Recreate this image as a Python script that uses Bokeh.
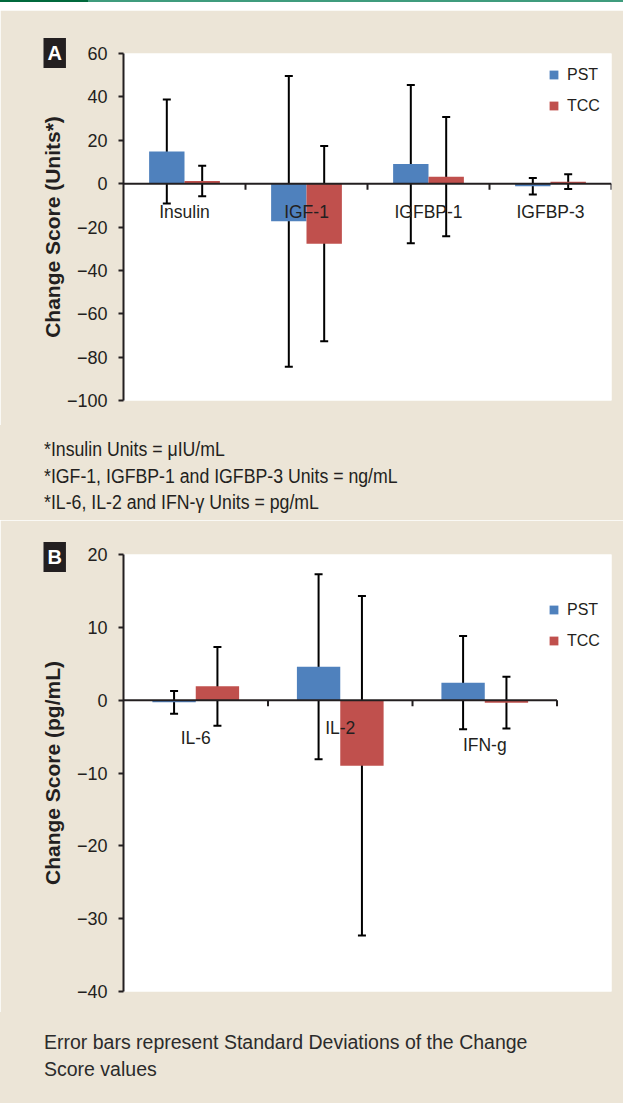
from math import pi
from bokeh.plotting import figure
from bokeh.models import (Range1d, FixedTicker, ColumnDataSource, Whisker, TeeHead,
                          Title, Legend, LegendItem, Div)
from bokeh.layouts import column
from bokeh.embed import file_html
from bokeh.resources import INLINE
from bokeh.core.properties import value

# ---------------- data ----------------
cats_a = ["Insulin", "IGF-1", "IGFBP-1", "IGFBP-3"]
pst_a = [14.8, -17.4, 9.0, -1.2]
pst_a_sd = [24.0, 67.0, 36.5, 3.8]
tcc_a = [1.2, -27.7, 3.2, 0.9]
tcc_a_sd = [7.0, 45.0, 27.5, 3.4]
ticks_a = [-100, -80, -60, -40, -20, 0, 20, 40, 60]
tick_labels_a = ["\u2212100", "\u221280", "\u221260", "\u221240", "\u221220", "0", "20", "40", "60"]

cats_b = ["IL-6", "IL-2", "IFN-g"]
pst_b = [-0.3, 4.6, 2.4]
pst_b_sd = [1.55, 12.7, 6.4]
tcc_b = [1.9, -9.0, -0.35]
tcc_b_sd = [5.4, 23.3, 3.55]
ticks_b = [-40, -30, -20, -10, 0, 10, 20]
tick_labels_b = ["\u221240", "\u221230", "\u221220", "\u221210", "0", "10", "20"]

series_names = ["PST", "TCC"]
notes_lines = ["*Insulin Units = \u03bcIU/mL",
               "*IGF-1, IGFBP-1 and IGFBP-3 Units = ng/mL",
               "*IL-6, IL-2 and IFN-\u03b3 Units = pg/mL"]
footer_lines = ["Error bars represent Standard Deviations of the Change", "Score values"]

# ---------------- style ----------------
BEIGE = "#ece5d7"
INK = "#231f20"
BLUE = "#4F81BD"
RED = "#C0504D"
SANS = "Liberation Sans, Arial, sans-serif"
W = 623


def make_panel(letter, cats, pst, pst_sd, tcc, tcc_sd, ticks, tick_labels, ylabel,
               x_end, bar_w, height, b_top, b_bottom, legend_y, label_offs, ylab_standoff,
               badge_standoff):
    n = len(cats)
    p = figure(width=W, height=height, title=None,
               x_range=Range1d(0, x_end), y_range=Range1d(ticks[0], ticks[-1]),
               output_backend="svg", toolbar_location=None, x_axis_location=None,
               min_border_left=123, min_border_right=12, min_border_top=b_top,
               min_border_bottom=b_bottom, background_fill_color="white",
               border_fill_color=BEIGE, outline_line_color=None)
    p.grid.visible = False

    xc = [i + 0.5 for i in range(n)]
    src = ColumnDataSource(dict(
        cat=cats, xc=xc,
        x_pst=[x - bar_w / 2 for x in xc], x_tcc=[x + bar_w / 2 for x in xc],
        pst=pst, tcc=tcc,
        pst_hi=[m + s for m, s in zip(pst, pst_sd)], pst_lo=[m - s for m, s in zip(pst, pst_sd)],
        tcc_hi=[m + s for m, s in zip(tcc, tcc_sd)], tcc_lo=[m - s for m, s in zip(tcc, tcc_sd)],
        off=label_offs,
    ))
    r1 = p.vbar(x="x_pst", top="pst", bottom=0, width=bar_w, fill_color=BLUE,
                line_color=None, source=src)
    r2 = p.vbar(x="x_tcc", top="tcc", bottom=0, width=bar_w, fill_color=RED,
                line_color=None, source=src)

    # category axis drawn at zero
    p.segment(x0=0, y0=0, x1=n, y1=0, line_color=INK, line_width=2)
    p.ray(x=list(range(1, n + 1)), y=0, length=6, angle=-pi / 2, length_units="screen",
          line_color=INK, line_width=2)
    p.text(x="xc", y=0, text="cat", source=src, y_offset="off", text_align="center",
           text_baseline="middle", text_font=value(SANS), text_font_size=value("17.5px"),
           text_color=INK)

    for base, hi, lo in (("x_pst", "pst_hi", "pst_lo"), ("x_tcc", "tcc_hi", "tcc_lo")):
        w = Whisker(base=base, upper=hi, lower=lo, source=src, line_color="black",
                    line_width=2,
                    upper_head=TeeHead(size=8, line_width=2, line_color="black"),
                    lower_head=TeeHead(size=8, line_width=2, line_color="black"))
        p.add_layout(w)

    ax = p.yaxis[0]
    ax.ticker = FixedTicker(ticks=ticks)
    ax.major_label_overrides = {t: l for t, l in zip(ticks, tick_labels)}
    ax.axis_line_color = INK
    ax.axis_line_width = 2
    ax.major_tick_line_color = INK
    ax.major_tick_line_width = 2
    ax.major_tick_out = 5
    ax.major_tick_in = 0
    ax.minor_tick_line_color = None
    ax.major_label_standoff = 11
    ax.major_label_text_font = SANS
    ax.major_label_text_font_size = "18px"
    ax.major_label_text_color = INK
    ax.axis_label = ylabel
    ax.axis_label_text_font = SANS
    ax.axis_label_text_font_style = "bold"
    ax.axis_label_text_font_size = "21px"
    ax.axis_label_text_color = INK
    ax.axis_label_standoff = ylab_standoff

    legend = Legend(items=[LegendItem(label=series_names[0], renderers=[r1]),
                           LegendItem(label=series_names[1], renderers=[r2])],
                    location=(425, legend_y), orientation="vertical",
                    glyph_width=11, glyph_height=11, label_height=21, spacing=10,
                    padding=0, margin=0, label_standoff=8, border_line_color=None,
                    background_fill_alpha=0, label_text_font=SANS,
                    label_text_font_size="16px", label_text_color=INK)
    p.add_layout(legend)

    badge = Title(text=letter, align="left", offset=-80, vertical_align="bottom",
                  standoff=badge_standoff, text_font=SANS, text_font_style="bold",
                  text_font_size="20px", text_color="white", background_fill_color=INK)
    try:
        badge.padding = 4
    except Exception:
        pass
    p.add_layout(badge, "above")
    return p


figA = make_panel("A", cats_a, pst_a, pst_a_sd, tcc_a, tcc_a_sd, ticks_a, tick_labels_a,
                  "Change Score (Units*)", x_end=4, bar_w=0.29, height=415, b_top=43,
                  b_bottom=25, legend_y=284, label_offs=[28] * len(cats_a),
                  ylab_standoff=0, badge_standoff=-29)

figB = make_panel("B", cats_b, pst_b, pst_b_sd, tcc_b, tcc_b_sd, ticks_b, tick_labels_b,
                  "Change Score (pg/mL)", x_end=3.377, bar_w=0.30, height=492, b_top=34,
                  b_bottom=21, legend_y=340, label_offs=[38, 28, 45],
                  ylab_standoff=10, badge_standoff=-35)

top_strip = Div(text="", width=W, height=10, margin=0,
                styles={"background": "linear-gradient(to right,#00693c 0,#00693c 88px,"
                                      "#3f9c7d 88px,#3f9c7d 100%) top left / 100% 2px no-repeat, white"})

notes = Div(text='<div style="transform:scaleX(0.885);transform-origin:0 0;white-space:nowrap">'
                 + "<br>".join(notes_lines) + "</div>",
            width=W, height=95, margin=0,
            styles={"background-color": BEIGE, "font-family": SANS, "font-size": "20px",
                    "line-height": "26.5px", "color": INK, "padding": "11px 0 0 44px",
                    "box-sizing": "border-box"})
footer = Div(text="<br>".join(footer_lines), width=W, height=91, margin=0,
             styles={"background-color": BEIGE, "font-family": SANS, "font-size": "19.5px",
                     "line-height": "27px", "color": "#2b2b2b", "padding": "17px 0 0 44px",
                     "box-sizing": "border-box"})

layout = column(top_strip, figA, notes, figB, footer, spacing=0)

open("out.html", "w").write(file_html(layout, INLINE))
